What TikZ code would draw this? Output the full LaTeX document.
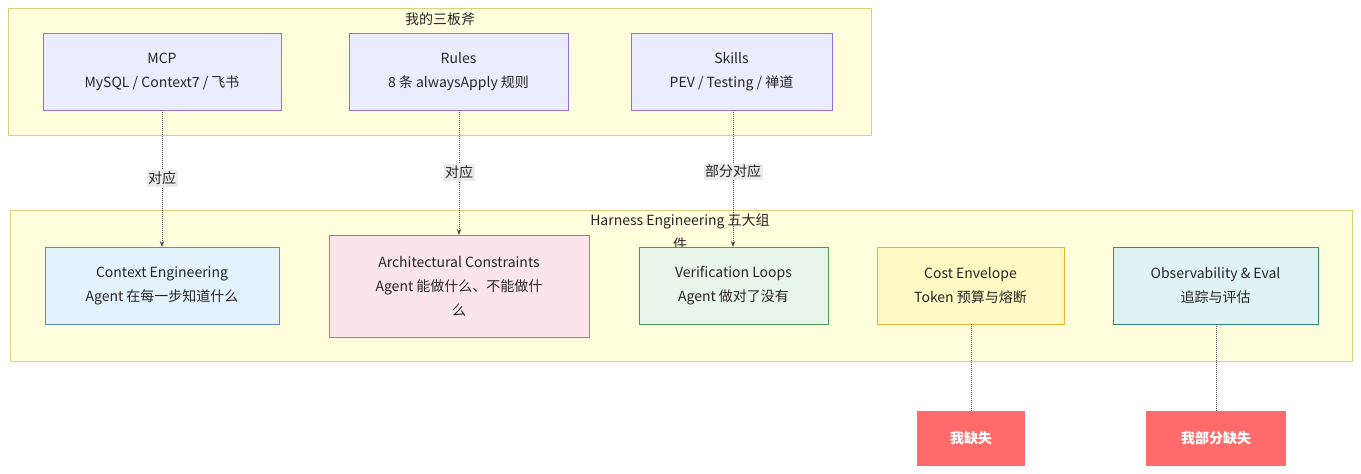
\documentclass[tikz,border=0pt]{standalone}
\usepackage{fontspec}
\setmainfont{Noto Sans CJK SC}
\usetikzlibrary{arrows.meta}
\definecolor{grpfill}{HTML}{FFFFDE}
\definecolor{grpline}{HTML}{D4D47A}
\definecolor{pfill}{HTML}{ECECFF}
\definecolor{pline}{HTML}{9370DB}
\begin{document}
\begin{tikzpicture}[x=1pt,y=-1pt,font=\fontsize{14}{24}\selectfont,
  grp/.style={draw=grpline,fill=grpfill,line width=1pt},
  box/.style={draw=#1!70!black,line width=1pt,align=center,text=black!85},
  lbl/.style={fill=black!8,inner sep=1.5pt,text=black!85},
  conn/.style={densely dotted,line width=1pt,black!70},
  miss/.style={fill=red!60!white,draw=none,text=white,font=\fontsize{14}{24}\selectfont\bfseries}]
\useasboundingbox (0,0) rectangle (1361,474);
\fill[white] (0,0) rectangle (1361,474);
\draw[grp] (8,8) rectangle (871,135);
\node[text=black!85] (g1) at (440,19) {我的三板斧};
\draw[grp] (10,210) rectangle (1352,361);
\node[text=black!85,align=center] (g2) at (680,232) {Harness Engineering 五大组\\件};
\path[draw=pline,fill=pfill,line width=1pt] (43,33) rectangle (281,110);
\node[align=center,text=black!85] (mcp) at (162,71.5) {MCP\\MySQL / Context7 / 飞书};
\path[draw=pline,fill=pfill,line width=1pt] (349,33) rectangle (568,110);
\node[align=center,text=black!85] (rules) at (458.5,71.5) {Rules\\8 条 alwaysApply 规则};
\path[draw=pline,fill=pfill,line width=1pt] (631,33) rectangle (832,110);
\node[align=center,text=black!85] (skills) at (731.5,71.5) {Skills\\PEV / Testing / 禅道};
\path[draw={rgb,255:red,91;green,141;blue,201},fill={rgb,255:red,227;green,242;blue,253},line width=1pt] (45,247) rectangle (279,324);
\node[align=center,text=black!85] (ctx) at (162,285.5) {Context Engineering\\Agent 在每一步知道什么};
\path[draw={rgb,255:red,212;green,106;blue,106},fill={rgb,255:red,252;green,228;blue,236},line width=1pt] (329,235) rectangle (589,337);
\node[align=center,text=black!85] (arch) at (459,286) {Architectural Constraints\\Agent 能做什么、不能做什\\么};
\path[draw={rgb,255:red,78;green,154;blue,85},fill={rgb,255:red,232;green,245;blue,233},line width=1pt] (639,247) rectangle (828,324);
\node[align=center,text=black!85] (ver) at (733.5,285.5) {Verification Loops\\Agent 做对了没有};
\path[draw={rgb,255:red,240;green,176;blue,48},fill={rgb,255:red,255;green,249;blue,196},line width=1pt] (877,247) rectangle (1064,324);
\node[align=center,text=black!85] (cost) at (970.5,285.5) {Cost Envelope\\Token 预算与熔断};
\path[draw={rgb,255:red,46;green,139;blue,122},fill={rgb,255:red,224;green,242;blue,241},line width=1pt] (1113,247) rectangle (1318,324);
\node[align=center,text=black!85] (obs) at (1215.5,285.5) {Observability \& Eval\\追踪与评估};
\path[fill={rgb,255:red,255;green,107;blue,107}] (917,411) rectangle (1025,466);
\node[text=white,font=\fontsize{14}{24}\selectfont\bfseries] (m1) at (971,438.5) {我缺失};
\path[fill={rgb,255:red,255;green,107;blue,107}] (1146,411) rectangle (1286,466);
\node[text=white,font=\fontsize{14}{24}\selectfont\bfseries] (m2) at (1216,438.5) {我部分缺失};
\coordinate (a1) at (162,110); \coordinate (b1) at (162,247);
\coordinate (a2) at (459,110); \coordinate (b2) at (459,235);
\coordinate (a3) at (733,110); \coordinate (b3) at (733,247);
\draw[conn,-{Stealth[length=6pt]}] (a1) -- node[lbl,solid]{对应} (b1);
\draw[conn,-{Stealth[length=6pt]}] (a2) -- node[lbl,pos=0.5]{对应} (b2);
\draw[conn,-{Stealth[length=6pt]}] (a3) -- node[lbl,pos=0.45]{部分对应} (b3);
\coordinate (c1) at (971,324); \coordinate (d1) at (971,411);
\coordinate (c2) at (1216,324); \coordinate (d2) at (1216,411);
\draw[conn] (c1) -- (d1);
\draw[conn] (c2) -- (d2);
\end{tikzpicture}
\end{document}
